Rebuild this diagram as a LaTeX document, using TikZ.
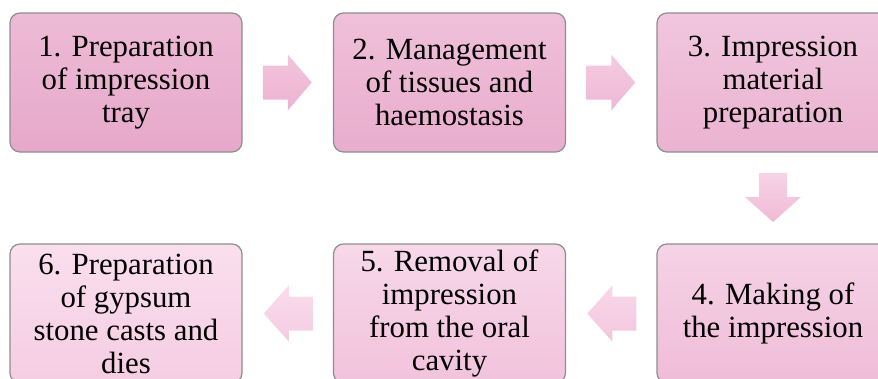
\documentclass[tikz,border=0pt]{standalone}
\usepackage{fontspec}
\setmainfont{Liberation Serif}
\usetikzlibrary{calc}
\definecolor{bordergray}{HTML}{8E8E8E}
\definecolor{bAt}{HTML}{EDBBD6}\definecolor{bAb}{HTML}{E7A8CA}
\definecolor{bBt}{HTML}{EFC0DA}\definecolor{bBb}{HTML}{E9ADCD}
\definecolor{bCt}{HTML}{F1C6DE}\definecolor{bCb}{HTML}{EBB3D1}
\definecolor{bDt}{HTML}{F5D3E6}\definecolor{bDb}{HTML}{F0BCD8}
\definecolor{bEt}{HTML}{F7D8E9}\definecolor{bEb}{HTML}{F2C2DC}
\definecolor{bFt}{HTML}{FADFEE}\definecolor{bFb}{HTML}{F5CDE2}
\definecolor{aAt}{HTML}{F2C4DC}\definecolor{aAb}{HTML}{EDB3D2}
\definecolor{aBt}{HTML}{F4CBE1}\definecolor{aBb}{HTML}{EEB8D5}
\definecolor{aCt}{HTML}{F6D4E6}\definecolor{aCb}{HTML}{F0B9D6}
\definecolor{aDt}{HTML}{F8D8E9}\definecolor{aDb}{HTML}{F3C6DE}
\definecolor{aEt}{HTML}{F9DCEC}\definecolor{aEb}{HTML}{F5CCE2}
\tikzset{
  stepbox/.style={draw=bordergray, line width=1.2pt, rounded corners=10pt,
    minimum width=232pt, minimum height=139pt, inner sep=0pt, align=center,
    font=\fontsize{30.8}{33}\selectfont, text=black},
  blockarrow/.style={draw=none},
}
\begin{document}
\begin{tikzpicture}[x=1pt,y=-1pt]
\useasboundingbox (0,0) rectangle (878,378);
\clip (0,0) rectangle (878,378);
\node[stepbox, top color=bAt, bottom color=bAb] (b1) at (126,82.5) {1. Preparation\\of impression\\tray};
\node[stepbox, top color=bBt, bottom color=bBb] (b2) at (449.5,82.5) {2. Management\\of tissues and\\haemostasis};
\node[stepbox, top color=bCt, bottom color=bCb] (b3) at (773,82.5) {3. Impression\\material\\preparation};
\node[stepbox, top color=bDt, bottom color=bDb] (b4) at (773,313.5) {4. Making of\\the impression};
\node[stepbox, top color=bEt, bottom color=bEb] (b5) at (449.5,313.5) {5. Removal of\\impression\\from the oral\\cavity};
\node[stepbox, top color=bFt, bottom color=bFb] (b6) at (126,313.5) {6. Preparation\\of gypsum\\stone casts and\\dies};
\coordinate (a1) at ($(b1.east)!0.5!(b2.west)$);
\coordinate (a2) at ($(b2.east)!0.5!(b3.west)$);
\coordinate (a3) at ($(b3.south)!0.5!(b4.north)$);
\coordinate (a4) at ($(b4.west)!0.5!(b5.east)$);
\coordinate (a5) at ($(b5.west)!0.5!(b6.east)$);
% right arrows
\path[blockarrow, shift={(a1)}, top color=aAt, bottom color=aAb]
  (-25,-17) -- (0,-17) -- (0,-28) -- (24,0) -- (0,28) -- (0,17) -- (-25,17) -- cycle;
\path[blockarrow, shift={(a2)}, top color=aBt, bottom color=aBb]
  (-25,-17) -- (0,-17) -- (0,-28) -- (24,0) -- (0,28) -- (0,17) -- (-25,17) -- cycle;
% down arrow
\path[blockarrow, shift={(a3)}, top color=aCt, bottom color=aCb]
  (-14,-25) -- (14,-25) -- (14,-1) -- (28,-1) -- (0,24) -- (-28,-1) -- (-14,-1) -- cycle;
% left arrows
\path[blockarrow, shift={(a4)}, top color=aDt, bottom color=aDb]
  (25,-17) -- (1,-17) -- (1,-28) -- (-24,0) -- (1,28) -- (1,17) -- (25,17) -- cycle;
\path[blockarrow, shift={(a5)}, top color=aEt, bottom color=aEb]
  (25,-17) -- (1,-17) -- (1,-28) -- (-24,0) -- (1,28) -- (1,17) -- (25,17) -- cycle;
\end{tikzpicture}
\end{document}
